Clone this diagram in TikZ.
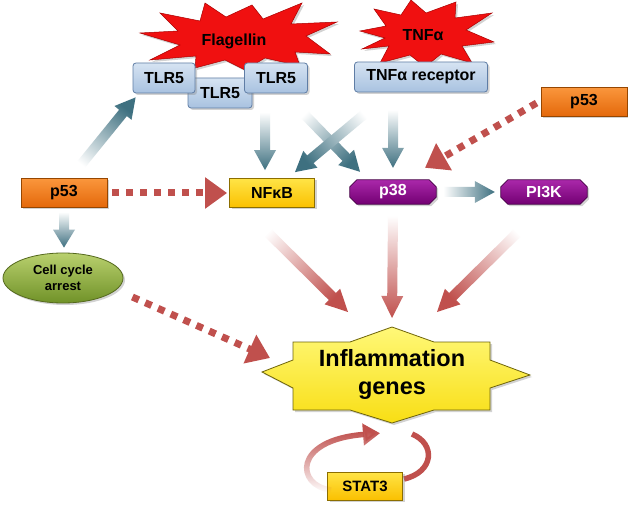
\documentclass[tikz,border=0pt]{standalone}
\usepackage{fontspec}
\setmainfont{Liberation Sans}
\usetikzlibrary{calc,arrows.meta,shapes.geometric,shadows,fadings}
\definecolor{tealarr}{RGB}{62,112,128}
\definecolor{redarr}{RGB}{192,80,77}
\definecolor{tlrtop}{RGB}{214,227,242}
\definecolor{tlrbot}{RGB}{168,194,224}
\definecolor{tlrline}{RGB}{95,125,165}
\definecolor{orgtop}{RGB}{250,150,60}
\definecolor{orgbot}{RGB}{228,104,10}
\definecolor{orgline}{RGB}{150,70,0}
\definecolor{goldtop}{RGB}{255,228,70}
\definecolor{goldbot}{RGB}{250,192,0}
\definecolor{goldline}{RGB}{140,110,0}
\definecolor{purtop}{RGB}{170,40,170}
\definecolor{purbot}{RGB}{115,0,115}
\definecolor{purline}{RGB}{70,0,70}
\definecolor{grntop}{RGB}{185,208,110}
\definecolor{grnbot}{RGB}{112,146,40}
\definecolor{grnline}{RGB}{85,105,30}
\definecolor{yeltop}{RGB}{255,248,120}
\definecolor{yelbot}{RGB}{248,222,20}
\definecolor{yelline}{RGB}{110,100,10}
\definecolor{starred}{RGB}{240,16,16}
\definecolor{starline}{RGB}{170,0,0}
\tikzset{
  lbl/.style={font=\fontsize{16}{18}\selectfont\bfseries, inner sep=0pt, align=center},
  shad/.style={drop shadow={opacity=0.35, shadow xshift=2pt, shadow yshift=-2pt}},
  tlrbox/.style={lbl, shad, draw=tlrline, line width=0.8pt, top color=tlrtop, bottom color=tlrbot, rounded corners=3pt, minimum height=30pt},
  orgbox/.style={lbl, shad, draw=orgline, line width=0.8pt, top color=orgtop, bottom color=orgbot, minimum width=86pt, minimum height=29pt},
  goldbox/.style={lbl, shad, draw=goldline, line width=0.8pt, top color=goldtop, bottom color=goldbot, minimum height=29pt},
  purframe/.style={lbl, minimum width=86pt, minimum height=24pt},
  purfill/.style={shad, draw=purline, line width=0.8pt, top color=purtop, bottom color=purbot},
  purtext/.style={lbl, text=white},
  starsty/.style={shad, draw=starline, line width=0.5pt, fill=starred},
  dasharr/.style={draw=redarr, line width=7pt, dash pattern=on 7pt off 7pt, -{Triangle[length=22pt,width=30pt]}},
}
\newcommand\octa[1]{%
  \draw[purfill] ($(#1.north west)+(7,0)$) -- ($(#1.north east)+(-7,0)$) -- ($(#1.north east)+(0,7)$)
    -- ($(#1.south east)+(0,-7)$) -- ($(#1.south east)+(-7,0)$) -- ($(#1.south west)+(7,0)$)
    -- ($(#1.south west)+(0,-7)$) -- ($(#1.north west)+(0,7)$) -- cycle;
}
\newcommand\fatarr[6]{%
  \coordinate (fa1) at #1;
  \coordinate (fa2) at #2;
  \coordinate (fah) at ($(fa2)!#6!(fa1)$);
  \pgfmathanglebetweenpoints{\pgfpointanchor{fa1}{center}}{\pgfpointanchor{fa2}{center}}%
  \pgfmathsetmacro\fashang{\pgfmathresult+90}%
  \shade[top color=white, bottom color=#3, shading angle=\fashang]
    ($(fa1)!#4!90:(fa2)$) -- ($(fah)!#4!90:(fa2)$) -- ($(fah)!#5!90:(fa2)$) -- (fa2)
    -- ($(fah)!#5!-90:(fa2)$) -- ($(fah)!#4!-90:(fa2)$) -- ($(fa1)!#4!-90:(fa2)$) -- cycle;
}
\begin{document}
\begin{tikzpicture}[x=1pt,y=-1pt]
\useasboundingbox[fill=white] (0,0) rectangle (628,510);

% Flagellin starburst
\draw[starsty] (140,33) -- (178,31) -- (160,13) -- (200,21) -- (205,3) -- (226,17) -- (252,5) -- (263,19)
  -- (302,3) -- (291,24) -- (337,22) -- (306,36) -- (330,54) -- (295,52) -- (300,66) -- (265,58)
  -- (245,70) -- (225,60) -- (195,68) -- (196,56) -- (150,60) -- (180,45) -- cycle;
\node[lbl] (flag) at (234,41) {Flagellin};

% TNF alpha starburst
\draw[starsty] (360,31) -- (386,26) -- (374,9) -- (401,15) -- (411,0) -- (426,13) -- (456,2) -- (455,18)
  -- (492,13) -- (466,30) -- (494,42) -- (462,46) -- (472,63) -- (441,54) -- (425,67) -- (410,55)
  -- (380,63) -- (389,46) -- (362,49) -- (385,38) -- cycle;
\node[lbl] (tnf) at (423,35) {TNFα};

% receptors
\node[tlrbox, minimum width=64pt] (tlrM) at (220,93) {TLR5};
\node[tlrbox, minimum width=62pt] (tlrL) at (164,78) {TLR5};
\node[tlrbox, minimum width=63pt] (tlrR) at (276,78) {TLR5};
\node[tlrbox, minimum width=133pt] (tnfr) at (421,77) {TNFα receptor};

% p53 / NFkB / p38 / PI3K
\node[orgbox] (p53R) at (584,102) {p53};
\node[orgbox] (p53L) at (64,193) {p53};
\node[goldbox, minimum width=85pt] (nfkb) at (272,193) {NFκB};
\path node[purframe] (p38) at (393,192) {};
\octa{p38}
\node[purtext] (p38t) at (p38) {p38};
\path node[purframe] (pi3k) at (544,192) {};
\octa{pi3k}
\node[purtext] (pi3kt) at (pi3k) {PI3K};

% cell cycle arrest
\node[ellipse, shad, draw=grnline, line width=0.8pt, top color=grntop, bottom color=grnbot,
  minimum width=120pt, minimum height=50pt, inner sep=0pt, align=center,
  font=\fontsize{13}{16}\selectfont\bfseries] (cca) at (63,278) {Cell cycle\\arrest};

% Inflammation genes
\coordinate (ic) at (392,375);
\draw[shad, draw=yelline, line width=0.8pt, top color=yeltop, bottom color=yelbot]
  ($(ic)+(-99,-33)$) -- ($(ic)+(-42,-33)$) -- ($(ic)+(0,-48)$) -- ($(ic)+(42,-33)$) -- ($(ic)+(98,-33)$)
  -- ($(ic)+(98,-15)$) -- ($(ic)+(138,0)$) -- ($(ic)+(98,13)$) -- ($(ic)+(98,35)$) -- ($(ic)+(42,35)$)
  -- ($(ic)+(0,48)$) -- ($(ic)+(-42,35)$) -- ($(ic)+(-99,35)$) -- ($(ic)+(-99,13)$) -- ($(ic)+(-130,-3)$)
  -- ($(ic)+(-99,-15)$) -- cycle;
\node[lbl, font=\fontsize{23.5}{28}\selectfont\bfseries] (infl) at (392,374) {Inflammation\\genes};

% STAT3 loop
\draw[redarr, line width=5.5pt] (412,434) .. controls (436,444) and (434,472) .. (404,479);
\node[goldbox, minimum width=75pt, minimum height=28pt, font=\fontsize{15}{18}\selectfont\bfseries] (stat3) at (365,486) {STAT3};
\draw[redarr, line width=5.5pt, path fading=south, -{Triangle[length=17pt,width=21pt]}]
  ($(stat3.west)+(4,4)$) .. controls (296,486) and (292,440) .. ($(infl.south)+(-12,34)$);

% teal block arrows
\fatarr{($(p53L.north)+(11,-6)$)}{($(tlrL.south west)+(3,4)$)}{tealarr}{5pt}{11pt}{20pt}
\fatarr{($(p53L.south)+(0,4)$)}{($(cca.north)+(1,-5)$)}{tealarr}{5pt}{11pt}{18pt}
\fatarr{($(nfkb.north)+(-7,-66)$)}{($(nfkb.north)+(-7,-8)$)}{tealarr}{5pt}{11pt}{20pt}
\fatarr{($(p38.north)+(-95,-72)$)}{($(p38.north)+(-33,-8)$)}{tealarr}{5pt}{11pt}{20pt}
\fatarr{($(p38.north)+(-21,-72)$)}{($(nfkb.north)+(23,-6)$)}{tealarr}{5pt}{11pt}{20pt}
\fatarr{($(p38.north)+(0,-70)$)}{($(p38.north)+(0,-12)$)}{tealarr}{5pt}{11pt}{20pt}
\fatarr{($(p38.east)+(7,0)$)}{($(pi3k.west)+(-6,0)$)}{tealarr}{5pt}{11pt}{20pt}

% red block arrows
\fatarr{($(nfkb.south)+(-15,14)$)}{($(ic)+(-44,-63)$)}{redarr}{5pt}{11pt}{22pt}
\fatarr{($(p38.south)+(0,11)$)}{($(ic)+(0,-57)$)}{redarr}{5pt}{11pt}{22pt}
\fatarr{($(pi3k.south)+(-16,18)$)}{($(ic)+(45,-63)$)}{redarr}{5pt}{11pt}{22pt}

% red dashed arrows
\draw[dasharr] ($(p53L.east)+(5,0)$) -- ($(nfkb.west)+(-2,0)$);
\draw[dasharr] ($(p53R.west)+(-4,1)$) -- ($(p38.north)+(32,-12)$);
\draw[dasharr] ($(cca.east)+(9,19)$) -- ($(ic)+(-122,-17)$);
\end{tikzpicture}
\end{document}
